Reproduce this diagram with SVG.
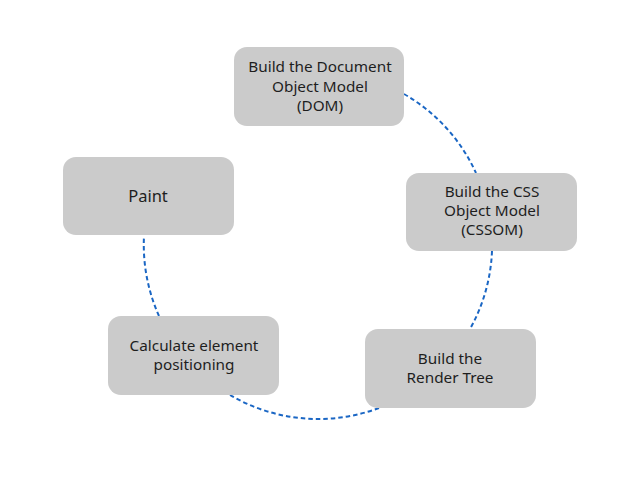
<svg xmlns="http://www.w3.org/2000/svg" width="640" height="480" viewBox="0 0 640 480">
<style>
.box{fill:#cbcbcb;stroke:none}
.t{font-family:"Noto Sans","DejaVu Sans",sans-serif;font-size:15.3px;fill:#1e1e1e;text-anchor:middle}
.big{font-size:16.5px}
.c{fill:none;stroke:#1a66c4;stroke-width:2;stroke-dasharray:4.5 3}
</style>
<rect width="640" height="480" fill="#ffffff"/>
<g id="connectors">
<path class="c" d="M404,94 A174,174 0 0 1 476,173"/>
<path class="c" d="M492,251 A174,174 0 0 1 470,329"/>
<path class="c" d="M379,408 A174,174 0 0 1 230,395"/>
<path class="c" d="M159,316 A174,174 0 0 1 144,236"/>
</g>
<g id="dom">
<rect class="box" x="234" y="47" width="170" height="79" rx="13"/>
<text class="t" x="320" y="72">Build the Document</text>
<text class="t" x="320" y="92">Object Model</text>
<text class="t" x="320" y="111">(DOM)</text>
</g>
<g id="cssom">
<rect class="box" x="406" y="173" width="171" height="78" rx="13"/>
<text class="t" x="492" y="197">Build the CSS</text>
<text class="t" x="492" y="216">Object Model</text>
<text class="t" x="492" y="235">(CSSOM)</text>
</g>
<g id="render">
<rect class="box" x="365" y="329" width="171" height="79" rx="13"/>
<text class="t" x="450" y="364">Build the</text>
<text class="t" x="450" y="383">Render Tree</text>
</g>
<g id="calc">
<rect class="box" x="108" y="316" width="171" height="79" rx="13"/>
<text class="t" x="194" y="351">Calculate element</text>
<text class="t" x="194" y="370">positioning</text>
</g>
<g id="paint">
<rect class="box" x="63" y="157" width="171" height="78" rx="13"/>
<text class="t big" x="148" y="202">Paint</text>
</g>
</svg>
